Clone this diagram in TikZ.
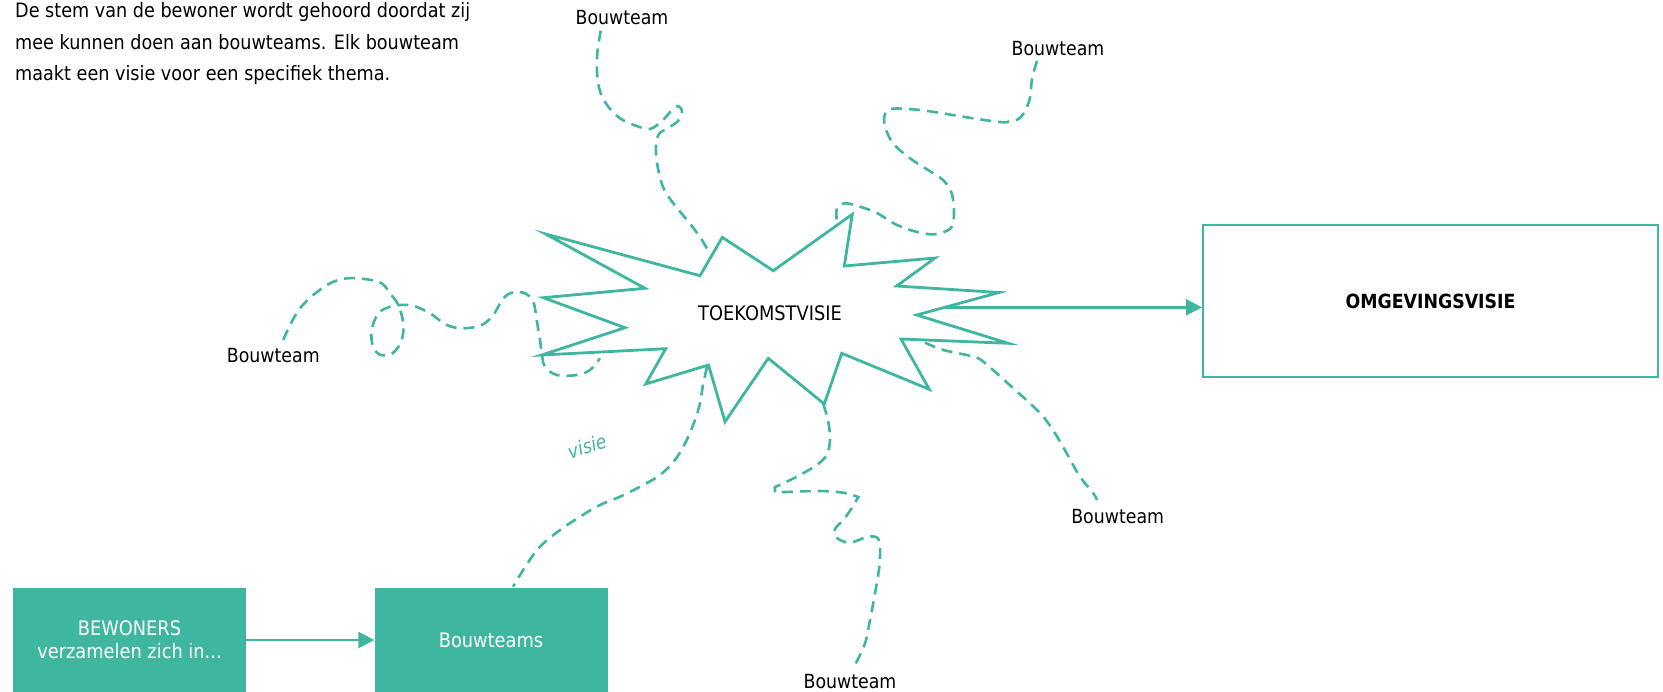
\documentclass[tikz,border=0pt]{standalone}
\usepackage{fontspec}
\setmainfont{DejaVu Sans}[FakeStretch=0.89]
\usetikzlibrary{arrows.meta}
\definecolor{tealc}{HTML}{3FB6A0}
\begin{document}
\begin{tikzpicture}[x=1pt,y=-1pt,
  lbl/.style={inner sep=0pt, anchor=base, font=\fontsize{19.5}{23}\selectfont, text=black},
  dashline/.style={draw=tealc, line width=2.6pt, dash pattern=on 11pt off 7pt},
  starline/.style={draw=tealc, line width=2.8pt, line join=miter, fill=white},
  flowarrow/.style={draw=tealc, line width=2.6pt, -{Triangle[length=16pt,width=16pt]}},
  filledbox/.style={fill=tealc, draw=none, text=white, align=center, minimum width=233pt, minimum height=104pt, inner sep=0pt, font=\fontsize{20}{22.6}\selectfont},
  outlinebox/.style={draw=tealc, line width=2pt, fill=white, minimum width=455pt, minimum height=152pt, inner sep=0pt, font=\fontsize{19.5}{23}\selectfont\bfseries}
]
\useasboundingbox (0,0) rectangle (1663,691);

% intro text
\node[anchor=north west, align=left, inner sep=0pt, font=\fontsize{19.8}{31.5}\selectfont] (intro) at (15,2.3)
  {De stem van de bewoner wordt gehoord doordat zij\\mee kunnen doen aan bouwteams. Elk bouwteam\\maakt een visie voor een specifiek thema.};

% labels
\node[lbl] (bt1) at (622,24.7) {Bouwteam};
\node[lbl] (bt2) at (1058,55) {Bouwteam};
\node[lbl] (bt3) at (273.3,362.7) {Bouwteam};
\node[lbl] (bt4) at (1117.7,523.3) {Bouwteam};
\node[lbl] (bt5) at (850,688.3) {Bouwteam};

% endpoint coordinates
\coordinate (a0) at (600.7,30.7);  \coordinate (a1) at (710,254);
\coordinate (b0) at (1037,61);     \coordinate (b1) at (836.7,220);
\coordinate (c0) at (283.3,340);   \coordinate (c1) at (600,358.3);
\coordinate (d0) at (707,367);     \coordinate (d1) at (513,586.7);
\coordinate (e0) at (823.3,404);   \coordinate (e1) at (855,665);
\coordinate (f0) at (925,342.7);   \coordinate (f1) at (1097,500);

% dashed connectors
\draw[dashline] plot[smooth, tension=0.55] coordinates {(a0) (597.3,53.3) (597.3,76.7) (600.7,93.3) (608.3,106.7) (620,118.3) (636.7,126) (650,129) (662,121) (672,110) (678,106) (682,111) (678,121) (668,128) (659,134) (656,145) (657,163) (663,187) (673,203) (687,220) (700,237) (a1)};
\draw[dashline] plot[smooth, tension=0.55] coordinates {(b0) (1032,79) (1029.5,100) (1021,117) (1010,121.5) (1000,122) (973,118.3) (946.7,114) (920,110) (893,108.7) (885,114) (885,126.7) (893,143.3) (910,158.3) (928,170) (943,180) (951.7,193.3) (954,213.3) (951.7,226.7) (943,232.5) (930,234.3) (910,230) (893,223) (877,213) (860,206.7) (845,203.3) (837,208.3) (b1)};
\draw[dashline] plot[smooth, tension=0.55] coordinates {(c0) (290,325) (300,308.3) (313.3,295) (330,283.3) (346.7,278.3) (366.7,279.3) (381.7,283.3) (390,293.3) (398.3,305) (403.3,323.3) (401.7,340) (393,353) (381,355) (373,347) (371.7,330) (378.3,313.3) (390,306.7) (400,305) (413.3,305.7) (430,313.3) (446.7,325) (463.3,328.3) (481.7,325) (493.3,315) (503.3,298.3) (513.3,292.3) (525,293.3) (533.3,301.7) (536.7,320) (540,340) (542,355) (545,366.7) (556.7,375) (576.7,375) (590,370) (c1)};
\draw[dashline] plot[smooth, tension=0.55] coordinates {(d0) (703,385) (700,403.3) (695,420) (686.7,440) (675,460) (660,475) (640,486.7) (620,496.7) (600,505) (580,516.7) (560,530) (540,546.7) (527,564) (d1)};
\draw[dashline] plot[smooth, tension=0.55] coordinates {(e0) (828.3,421.7) (830,440) (826.7,455) (816.7,465) (800,475) (786.7,481.7) (775,487)}
   -- plot[smooth, tension=0.55] coordinates {(775,492.5) (793,491.7) (820,491) (843,492.7) (858.3,497)}
   -- plot[smooth, tension=0.55] coordinates {(851.7,508.3) (843.3,520) (835,529) (837,538) (850,542.7) (866.7,537) (877,537.5) (880,546.7) (879.3,566.7) (875,593.3) (870,620) (865,643.3) (e1)};
\draw[dashline] plot[smooth, tension=0.55] coordinates {(f0) (943.3,350) (966.7,355) (980,359.3) (996.7,373.3) (1013.3,388.3) (1030,403.3) (1043.3,416.7) (1055,433.3) (1066.7,453.3) (1080,476.7) (1093.3,493.3) (f1)};

% starburst
\draw[starline] (545.7,234) -- (700,275.7) -- (722.3,237.3) -- (773.3,270.7) -- (852.3,214.3) -- (844.3,266)
  -- (935,258) -- (896.7,286) -- (999,292.5) -- (916.7,315) -- (1008.3,343.3) -- (901,339)
  -- (929.3,389.3) -- (841.7,353.3) -- (824.3,404) -- (768.3,358.3) -- (725,421.7) -- (708.5,365)
  -- (645.7,384) -- (665.7,348.7) -- (541.7,355) -- (625,327.7) -- (543.3,297.7) -- (645,288.3) -- cycle;
\node[inner sep=0pt, anchor=base, font=\fontsize{20}{23}\selectfont] (tv) at (770,320) {TOEKOMSTVISIE};
\coordinate (starR) at (944.9,307.3);

% result box
\node[outlinebox] (omg) at (1430.5,301) {OMGEVINGSVISIE};
\draw[flowarrow] (starR) -- (starR -| omg.west);

% bottom boxes
\node[filledbox] (bew) at (129.5,640) {BEWONERS\\verzamelen zich in...};
\node[filledbox] (bts) at (491,640) {Bouwteams};
\draw[flowarrow] (bew.east) -- (bts.west);

% label on connector
\node[inner sep=0pt, rotate=18, text=tealc, font=\fontsize{19.5}{23}\selectfont\itshape] (vis) at (587,446) {visie};
\end{tikzpicture}
\end{document}
